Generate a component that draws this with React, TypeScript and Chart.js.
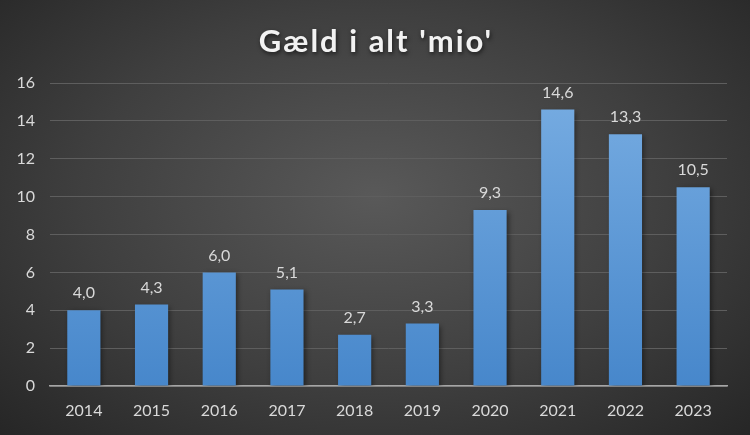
import React, { useEffect, useRef } from "react";
import { Chart, registerables } from "chart.js";

Chart.register(...registerables);

const categories = ["2014", "2015", "2016", "2017", "2018", "2019", "2020", "2021", "2022", "2023"];
const values = [4.0, 4.3, 6.0, 5.1, 2.7, 3.3, 9.3, 14.6, 13.3, 10.5];
const yTicks = [0, 2, 4, 6, 8, 10, 12, 14, 16];
const title = "Gæld i alt 'mio'";

const FONT = "Lato, 'Open Sans', sans-serif";

const titlePlugin = {
  id: "customTitle",
  afterDraw(chart: any) {
    const { ctx } = chart;
    ctx.save();
    ctx.font = `bold 31px ${FONT}`;
    try {
      (ctx as any).letterSpacing = "2px";
    } catch (e) {}
    ctx.textAlign = "center";
    ctx.textBaseline = "middle";
    ctx.shadowColor = "rgba(0,0,0,0.6)";
    ctx.shadowBlur = 4;
    ctx.shadowOffsetX = 1;
    ctx.shadowOffsetY = 2;
    ctx.fillStyle = "#f2f2f2";
    ctx.fillText(title, chart.width / 2 + 1, 42);
    ctx.restore();
  },
};

const labelPlugin = {
  id: "valueLabels",
  afterDatasetsDraw(chart: any) {
    const { ctx } = chart;
    const meta = chart.getDatasetMeta(0);
    ctx.save();
    ctx.font = `16px ${FONT}`;
    ctx.fillStyle = "#d9d9d9";
    ctx.textAlign = "center";
    ctx.textBaseline = "bottom";
    meta.data.forEach((bar: any, i: number) => {
      const v = chart.data.datasets[0].data[i] as number;
      ctx.fillText(v.toFixed(1).replace(".", ","), bar.x, bar.y - 9);
    });
    ctx.restore();
  },
};

const shadowPlugin = {
  id: "barShadow",
  beforeDatasetsDraw(chart: any) {
    const { ctx } = chart;
    ctx.save();
    ctx.shadowColor = "rgba(0,0,0,0.45)";
    ctx.shadowBlur = 5;
    ctx.shadowOffsetX = 2;
    ctx.shadowOffsetY = 2;
  },
  afterDatasetsDraw(chart: any) {
    chart.ctx.restore();
  },
};

export default function App() {
  const ref = useRef<HTMLCanvasElement | null>(null);

  useEffect(() => {
    document.body.style.margin = "0";
    const canvas = ref.current;
    if (!canvas) return;
    const chart = new Chart(canvas, {
      type: "bar",
      data: {
        labels: categories,
        datasets: [
          {
            data: values,
            backgroundColor: (c: any) => {
              const area = c.chart.chartArea;
              if (!area) return "#5b9bd5";
              const g = c.chart.ctx.createLinearGradient(0, area.top, 0, area.bottom);
              g.addColorStop(0, "#78ade2");
              g.addColorStop(1, "#4787cb");
              return g;
            },
            borderWidth: 0,
            categoryPercentage: 1,
            barPercentage: 0.49,
          },
        ],
      },
      options: {
        animation: false,
        responsive: false,
        maintainAspectRatio: false,
        layout: { padding: { top: 83, right: 23, left: 0, bottom: 0 } },
        plugins: {
          legend: { display: false },
          tooltip: { enabled: false },
          title: { display: false },
        },
        scales: {
          x: {
            grid: { display: false, drawTicks: false },
            border: { display: true, color: "#a6a6a6", width: 1.5 },
            ticks: {
              color: "#d9d9d9",
              font: { size: 16, family: FONT },
              padding: 15,
            },
            afterFit(scale: any) {
              scale.height = 49;
            },
          },
          y: {
            min: 0,
            max: 16,
            afterBuildTicks(scale: any) {
              scale.ticks = yTicks.map((v) => ({ value: v }));
            },
            grid: { color: "#5e5e5e", lineWidth: 1, drawTicks: false },
            border: { display: false },
            ticks: {
              color: "#d9d9d9",
              font: { size: 16, family: FONT },
              padding: 15,
            },
            afterFit(scale: any) {
              scale.width = 50;
            },
          },
        },
      },
      plugins: [shadowPlugin, labelPlugin, titlePlugin],
    });
    return () => chart.destroy();
  }, []);

  return (
    <div
      style={{
        position: "absolute",
        left: 0,
        top: 0,
        width: 750,
        height: 435,
        background: "radial-gradient(ellipse at 50% 45%, #595959 0%, #3f3f3f 55%, #262626 100%)",
      }}
    >
      <canvas ref={ref} width={750} height={435} style={{ width: 750, height: 435, display: "block" }} />
    </div>
  );
}
